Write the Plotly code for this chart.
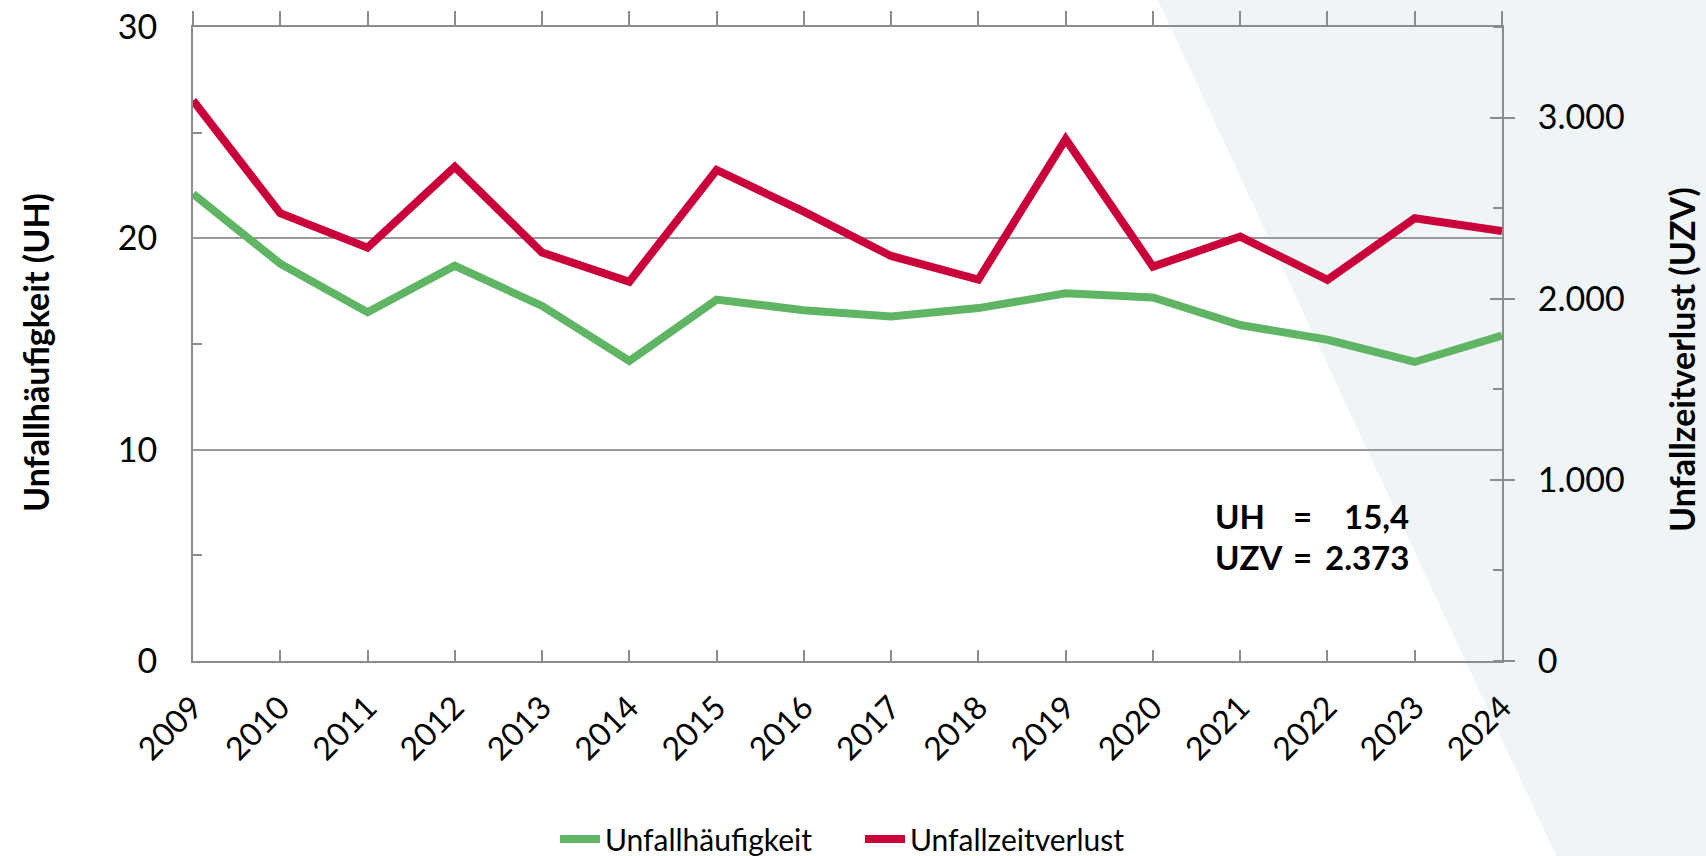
import plotly.graph_objects as go

years = list(range(2009, 2025))
uh = [22.1, 18.8, 16.5, 18.7, 16.8, 14.2, 17.1, 16.6, 16.3, 16.7, 17.4, 17.2, 15.9, 15.2, 14.15, 15.4]
uzv = [3094, 2472, 2282, 2728, 2255, 2094, 2711, 2481, 2236, 2106, 2881, 2177, 2343, 2104, 2444, 2373]

GREEN = "#60B565"
RED = "#C9003A"
GRAY = "#8C8C8C"
FONT = "Lato"

W, H = 1706, 856
L, R, T, B = 193, 204, 27, 195
pw, ph = W - L - R, H - T - B

def px(x):
    return (x - L) / pw

def py(y):
    return (H - B - y) / ph

fig = go.Figure()
fig.add_trace(go.Scatter(x=years, y=uh, name="Unfallhäufigkeit", mode="lines",
                         line=dict(color=GREEN, width=8), yaxis="y", xaxis="x"))
fig.add_trace(go.Scatter(x=years, y=uzv, name="Unfallzeitverlust", mode="lines",
                         line=dict(color=RED, width=8), yaxis="y2", xaxis="x"))
# invisible helper trace so that the top axis and inner right ticks are drawn
fig.add_trace(go.Scatter(x=years, y=uzv, mode="lines", line=dict(width=0, color="rgba(0,0,0,0)"),
                         showlegend=False, hoverinfo="skip", xaxis="x2", yaxis="y3"))

ytickfont = dict(family=FONT, size=34, color="#000000")
xtickfont = dict(family=FONT, size=32, color="#000000")

fig.update_layout(
    width=W, height=H,
    margin=dict(l=L, r=R, t=T, b=B, autoexpand=False),
    paper_bgcolor="white",
    plot_bgcolor="rgba(0,0,0,0)",
    separators=",.",
    font=dict(family=FONT, color="#000000"),
    xaxis=dict(range=[2009, 2024], tickmode="array", tickvals=years, ticktext=[str(y) for y in years],
               tickangle=-45, tickfont=xtickfont, ticks="inside", ticklen=11, tickwidth=2, tickcolor=GRAY,
               showline=True, linecolor=GRAY, linewidth=2, showgrid=False, zeroline=False,
               ticklabelstandoff=13, automargin=False),
    xaxis2=dict(range=[2009, 2024], overlaying="x", side="top", anchor="y", tickvals=years,
                showticklabels=False, ticks="outside", ticklen=14, tickwidth=2, tickcolor=GRAY,
                showline=True, linecolor=GRAY, linewidth=2, showgrid=False, zeroline=False,
                automargin=False),
    yaxis=dict(range=[0, 30], dtick=10, tick0=0, tickfont=ytickfont, ticks="", showline=True,
               linecolor=GRAY, linewidth=2, showgrid=True, gridcolor="#999999", gridwidth=2,
               zeroline=False, ticklabelstandoff=27, automargin=False,
               minor=dict(dtick=5, ticks="inside", ticklen=9, tickwidth=2, tickcolor=GRAY, showgrid=False)),
    yaxis2=dict(range=[0, 3500], dtick=1000, tick0=0, tickformat=",d", overlaying="y", side="right",
                anchor="x", tickfont=ytickfont, ticks="outside", ticklen=11, tickwidth=2, tickcolor=GRAY,
                showline=True, linecolor=GRAY, linewidth=2, showgrid=False, zeroline=False,
                ticklabelstandoff=16, automargin=False,
                minor=dict(dtick=500, ticks="inside", ticklen=9, tickwidth=2, tickcolor=GRAY, showgrid=False)),
    yaxis3=dict(range=[0, 3500], dtick=1000, tick0=0, overlaying="y", side="right", anchor="x",
                showticklabels=False, ticks="inside", ticklen=12, tickwidth=2, tickcolor=GRAY,
                showline=False, showgrid=False, zeroline=False, automargin=False),
    legend=dict(orientation="h", x=px(860), xanchor="center", y=py(839), yanchor="middle",
                font=dict(family=FONT, size=30, color="#000000"), bgcolor="rgba(0,0,0,0)",
                itemwidth=40, entrywidth=250, entrywidthmode="pixels"),
    showlegend=True,
)

fig.add_shape(type="path", xref="paper", yref="paper", layer="below",
              path=f"M {px(1157)},{py(-2)} L {px(1712)},{py(-2)} L {px(1712)},{py(860)} L {px(1558)},{py(860)} Z",
              fillcolor="#EFF4F7", line=dict(width=0))

# axis titles
tfont = dict(family=FONT, size=34, color="#000000")
fig.add_annotation(text="<b>Unfallhäufigkeit (UH)</b>", xref="paper", yref="paper", x=px(35), y=py(353),
                   textangle=-90, showarrow=False, font=tfont, xanchor="center", yanchor="middle")
fig.add_annotation(text="<b>Unfallzeitverlust (UZV)</b>", xref="paper", yref="paper", x=px(1681), y=py(360),
                   textangle=-90, showarrow=False, font=tfont, xanchor="center", yanchor="middle")

# summary box
bfont = dict(family=FONT, size=33, color="#000000")
uh_txt = f"{uh[-1]:.1f}".replace(".", ",")
uzv_txt = f"{uzv[-1]:,}".replace(",", ".")
for label, value, yy in [("UH", uh_txt, 516), ("UZV", uzv_txt, 557)]:
    fig.add_annotation(text=f"<b>{label}</b>", xref="paper", yref="paper", x=px(1213), y=py(yy),
                       xanchor="left", yanchor="middle", showarrow=False, font=bfont)
    fig.add_annotation(text="<b>=</b>", xref="paper", yref="paper", x=px(1302), y=py(yy),
                       xanchor="center", yanchor="middle", showarrow=False, font=bfont)
    fig.add_annotation(text=f"<b>{value}</b>", xref="paper", yref="paper", x=px(1411), y=py(yy),
                       xanchor="right", yanchor="middle", showarrow=False, font=bfont)

fig.write_html("out.html", config={"displayModeBar": False},
               post_script="document.body.style.margin='0';")
